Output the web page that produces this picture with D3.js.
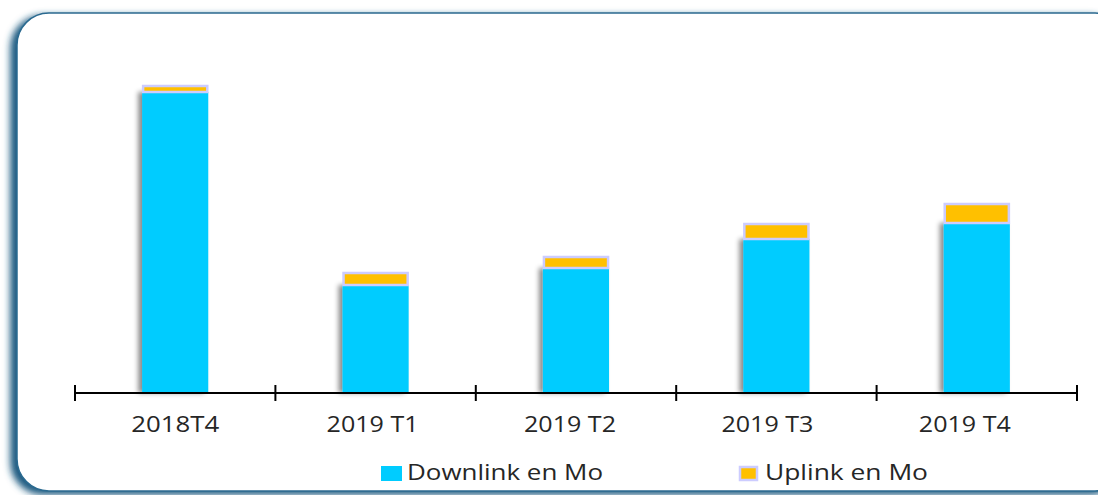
<!DOCTYPE html>
<html>
<head>
<meta charset="utf-8">
<script src="https://cdn.jsdelivr.net/npm/d3@7"></script>
<style>
  body { margin: 0; background: #fff; }
  svg { display: block; }
</style>
</head>
<body>
<div id="chart"></div>
<script>
// quarters and values (Mo)
const categories = ["2018T4", "2019 T1", "2019 T2", "2019 T3", "2019 T4"];
const downlink = [301, 108, 125, 154, 170];
const uplink = [7, 13, 12, 16, 20];
const seriesNames = ["Downlink en Mo", "Uplink en Mo"];

var width = 1098,
  height = 495;

const svg = d3.select("#chart")
  .append("svg")
  .attr("width", width)
  .attr("height", height);

const defs = svg.append("defs");
const frameShadow = defs.append("filter").attr("id", "frameShadow")
  .attr("x", "-5%").attr("y", "-5%").attr("width", "110%").attr("height", "110%");
frameShadow.append("feDropShadow")
  .attr("dx", -6).attr("dy", 3).attr("stdDeviation", 3.5)
  .attr("flood-color", "#1b5a80").attr("flood-opacity", 1);

const barShadow = defs.append("filter").attr("id", "barShadow")
  .attr("x", "-30%").attr("y", "-10%").attr("width", "160%").attr("height", "120%");
barShadow.append("feDropShadow")
  .attr("dx", -4).attr("dy", 0).attr("stdDeviation", 2.5)
  .attr("flood-color", "#000").attr("flood-opacity", 0.45);

// rounded frame
svg.append("rect")
  .attr("x", 17).attr("y", 13)
  .attr("width", 1110).attr("height", 478)
  .attr("rx", 32).attr("ry", 32)
  .attr("fill", "#fff")
  .attr("stroke", "#2a6a90")
  .attr("stroke-width", 1.5)
  .attr("filter", "url(#frameShadow)");

var x = d3.scaleBand()
  .domain(categories)
  .range([75, 1077])
  .paddingInner(0.67)
  .paddingOuter(0.335);

var y = d3.scaleLinear()
  .domain([0, 300])
  .range([393, 93]);

const stack = d3.stack().keys(["down", "up"]);
const rows = categories.map((c, i) => ({ cat: c, down: downlink[i], up: uplink[i] }));
const layers = stack(rows);

const g = svg.append("g");

// downlink
g.selectAll("rect.down")
  .data(layers[0])
  .enter()
  .append("rect")
  .attr("class", "down")
  .attr("x", d => x(d.data.cat))
  .attr("y", d => y(d[1]))
  .attr("width", x.bandwidth())
  .attr("height", d => y(d[0]) - y(d[1]))
  .style("fill", "#00ccff")
  .attr("filter", "url(#barShadow)");

// uplink
g.selectAll("rect.up")
  .data(layers[1])
  .enter()
  .append("rect")
  .attr("class", "up")
  .attr("x", d => x(d.data.cat) + 1)
  .attr("y", d => y(d[1]) + 1)
  .attr("width", x.bandwidth() - 2)
  .attr("height", d => y(d[0]) - y(d[1]) - 1)
  .style("fill", "#ffc000")
  .style("stroke", "#ccccff")
  .style("stroke-width", 2.5);

// axis
const axis = svg.append("g").attr("transform", "translate(0,393)");
axis.append("line")
  .attr("x1", 75).attr("x2", 1077)
  .attr("stroke", "#000").attr("stroke-width", 2);
const step = x.step();
const edges = d3.range(categories.length + 1).map(i => 75 + i * step);
axis.selectAll("line.tick")
  .data(edges)
  .enter()
  .append("line")
  .attr("class", "tick")
  .attr("x1", d => d).attr("x2", d => d)
  .attr("y1", -8).attr("y2", 8)
  .attr("stroke", "#000").attr("stroke-width", 2);
// the original text is stretched wide, so fix the length
axis.selectAll("text")
  .data(categories)
  .enter()
  .append("text")
  .attr("x", (d, i) => x(d) + x.bandwidth() / 2 - i * 3)
  .attr("y", 39)
  .attr("text-anchor", "middle")
  .attr("textLength", (d, i) => i === 0 ? 88 : 92)
  .attr("lengthAdjust", "spacingAndGlyphs")
  .style("font-family", "'Open Sans', sans-serif")
  .style("font-size", "21px")
  .style("fill", "#262626")
  .text(d => d);

// legend
const legend = svg.append("g");
const legendX = [381, 739];
const legendLen = [196, 163];
const legendColors = ["#00ccff", "#ffc000"];
seriesNames.forEach((name, i) => {
  const lg = legend.append("g").attr("transform", `translate(${legendX[i]},466)`);
  lg.append("rect")
    .attr("x", i === 1 ? 1 : 0).attr("y", i === 1 ? 1 : 0)
    .attr("width", i === 1 ? 17 : 21).attr("height", i === 1 ? 13 : 15)
    .style("fill", legendColors[i])
    .style("stroke", i === 1 ? "#ccccff" : "none")
    .style("stroke-width", 2.5);
  lg.append("text")
    .attr("x", 26).attr("y", 14)
    .attr("textLength", legendLen[i])
    .attr("lengthAdjust", "spacingAndGlyphs")
    .style("font-family", "'Open Sans', sans-serif")
    .style("font-size", "21px")
    .style("fill", "#262626")
    .text(name);
});
</script>
</body>
</html>
